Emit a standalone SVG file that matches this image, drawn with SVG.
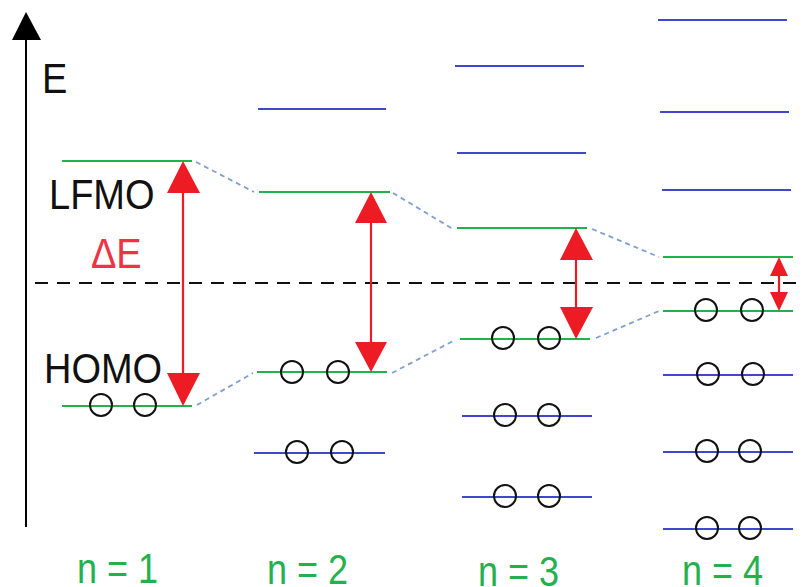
<svg xmlns="http://www.w3.org/2000/svg" width="802" height="587" viewBox="0 0 802 587">
<style>
.g{stroke:#22b14c;stroke-width:2;fill:none}
.b{stroke:#3f48cc;stroke-width:2;fill:none}
.e{stroke:#111;stroke-width:2;fill:none}
.r{stroke:#ed1c24;stroke-width:2.2;fill:none}
.rh{fill:#ed1c24;stroke:none}
.c{stroke:#7f9fd4;stroke-width:1.8;stroke-dasharray:5 4;fill:none}
.t{font-family:"Liberation Sans",Arial,sans-serif;font-size:38px;fill:#111}
.d{font-family:"Liberation Sans",Arial,sans-serif;font-size:38px;fill:#ee3344}
.n{font-family:"Liberation Sans",Arial,sans-serif;font-size:36px;fill:#22b14c}
</style>
<defs>
<circle id="el" r="11" class="e"/>
</defs>
<g id="axis">
<line x1="26" y1="38" x2="26" y2="527" stroke="#000" stroke-width="2"/>
<polygon points="12,40 26,12 41,40" fill="#000"/>
<text class="t" transform="translate(42,93) scale(1,1.13)">E</text>
</g>
<g id="refline">
<line x1="35" y1="283" x2="802" y2="283" stroke="#111" stroke-width="2.2" stroke-dasharray="13 9"/>
</g>
<g id="labels">
<text class="t" transform="translate(49,209) scale(1,1.13)">LFMO</text>
<text class="t" transform="translate(44,383) scale(1,1.13)">HOMO</text>
<text class="d" transform="translate(91,268) scale(1,1.13)">ΔE</text>
</g>
<g id="n1">
<line class="g" x1="62" y1="161" x2="192" y2="161"/>
<line class="g" x1="62" y1="406" x2="192" y2="406"/>
<use href="#el" x="101" y="405"/><use href="#el" x="145" y="405"/>
<line class="r" x1="183" y1="190" x2="183" y2="376"/>
<polygon class="rh" points="167,193 183,161 200,193"/>
<polygon class="rh" points="167,373 200,373 183,406"/>
<text class="n" transform="translate(77,583) scale(1,1.2)">n = 1</text>
</g>
<g id="n2">
<line class="b" x1="258" y1="109" x2="386" y2="109"/>
<line class="g" x1="259" y1="192" x2="390" y2="192"/>
<line class="g" x1="257" y1="372" x2="387" y2="372"/>
<line class="b" x1="254" y1="453" x2="385" y2="453"/>
<use href="#el" x="292" y="372"/><use href="#el" x="338" y="372"/>
<use href="#el" x="297" y="452"/><use href="#el" x="342" y="452"/>
<line class="r" x1="371" y1="220" x2="371" y2="345"/>
<polygon class="rh" points="355,223 371,192 387,223"/>
<polygon class="rh" points="355,342 387,342 371,372"/>
<text class="n" transform="translate(267,584) scale(1,1.2)">n = 2</text>
</g>
<g id="n3">
<line class="b" x1="455" y1="66" x2="584" y2="66"/>
<line class="b" x1="457" y1="153" x2="586" y2="153"/>
<line class="g" x1="457" y1="228" x2="587" y2="228"/>
<line class="g" x1="460" y1="339" x2="590" y2="339"/>
<line class="b" x1="462" y1="416" x2="592" y2="416"/>
<line class="b" x1="462" y1="497" x2="592" y2="497"/>
<use href="#el" x="503" y="338"/><use href="#el" x="549" y="338"/>
<use href="#el" x="505" y="415"/><use href="#el" x="549" y="415"/>
<use href="#el" x="505" y="496"/><use href="#el" x="549" y="496"/>
<line class="r" x1="576" y1="257" x2="576" y2="310"/>
<polygon class="rh" points="560,260 576,228 593,260"/>
<polygon class="rh" points="560,307 593,307 576,339"/>
<text class="n" transform="translate(478,586) scale(1,1.2)">n = 3</text>
</g>
<g id="n4">
<line class="b" x1="658" y1="20" x2="787" y2="20"/>
<line class="b" x1="660" y1="112" x2="789" y2="112"/>
<line class="b" x1="662" y1="190" x2="791" y2="190"/>
<line class="g" x1="663" y1="257" x2="793" y2="257"/>
<line class="g" x1="663" y1="311" x2="793" y2="311"/>
<line class="b" x1="663" y1="375" x2="793" y2="375"/>
<line class="b" x1="663" y1="452" x2="793" y2="452"/>
<line class="b" x1="663" y1="529" x2="793" y2="529"/>
<use href="#el" x="706" y="310"/><use href="#el" x="752" y="310"/>
<use href="#el" x="708" y="374"/><use href="#el" x="753" y="374"/>
<use href="#el" x="707" y="451"/><use href="#el" x="750" y="451"/>
<use href="#el" x="707" y="528"/><use href="#el" x="750" y="528"/>
<line class="r" x1="779" y1="274" x2="779" y2="294"/>
<polygon class="rh" points="770,276 779,257 788,276"/>
<polygon class="rh" points="770,292 788,292 779,311"/>
<text class="n" transform="translate(682,585) scale(1,1.2)">n = 4</text>
</g>
<g id="connectors">
<line class="c" x1="196" y1="162" x2="254" y2="192"/>
<line class="c" x1="197" y1="405" x2="253" y2="373"/>
<line class="c" x1="393" y1="193" x2="453" y2="229"/>
<line class="c" x1="392" y1="373" x2="455" y2="340"/>
<line class="c" x1="592" y1="229" x2="659" y2="257"/>
<line class="c" x1="596" y1="338" x2="659" y2="311"/>
</g>
</svg>
